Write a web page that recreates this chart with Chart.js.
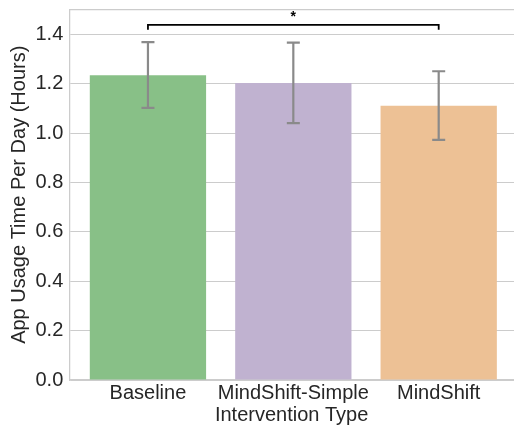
<!DOCTYPE html>
<html>
<head>
<meta charset="utf-8">
<script src="https://cdn.jsdelivr.net/npm/chart.js@4/dist/chart.umd.min.js"></script>
<style>
html,body{margin:0;padding:0;background:#fff;}
#wrap{width:514px;height:430px;position:relative;}
</style>
</head>
<body>
<div id="wrap"><canvas id="c" width="514" height="430"></canvas></div>
<script>
const categories = ['Baseline', 'MindShift-Simple', 'MindShift'];
const meanValues = [1.234, 1.202, 1.110];
const errLow = [1.102, 1.040, 0.972];
const errHigh = [1.368, 1.366, 1.250];
const barColors = ['#88c087', '#c0b2d0', '#edc195'];
const yTicks = [0, 0.2, 0.4, 0.6, 0.8, 1.0, 1.2, 1.4];
const sigFrom = [0];
const sigTo = [2];
const sigY = [1.438];
const sigLabel = ['*'];

const FONT = "'Liberation Sans', Arial, sans-serif";
const TXT = '#262626';
const GRID = '#cccccc';
const FS = 20;

const extras = {
  id: 'extras',
  afterDatasetsDraw(chart) {
    const ctx = chart.ctx, x = chart.scales.x, y = chart.scales.y, a = chart.chartArea;
    ctx.save();
    ctx.strokeStyle = GRID; ctx.lineWidth = 1.25;
    ctx.beginPath(); ctx.moveTo(a.left, a.top); ctx.lineTo(a.right, a.top); ctx.stroke();
    ctx.strokeStyle = '#8a8a8a'; ctx.lineWidth = 2.2; ctx.lineCap = 'butt';
    for (let i = 0; i < categories.length; i++) {
      const px = x.getPixelForValue(i);
      const lo = y.getPixelForValue(errLow[i]), hi = y.getPixelForValue(errHigh[i]);
      ctx.beginPath();
      ctx.moveTo(px, lo); ctx.lineTo(px, hi);
      ctx.moveTo(px - 6.5, lo); ctx.lineTo(px + 6.5, lo);
      ctx.moveTo(px - 6.5, hi); ctx.lineTo(px + 6.5, hi);
      ctx.stroke();
    }
    ctx.strokeStyle = '#000'; ctx.lineWidth = 1.8;
    for (let i = 0; i < sigFrom.length; i++) {
      const x1 = x.getPixelForValue(sigFrom[i]), x2 = x.getPixelForValue(sigTo[i]);
      const yy = y.getPixelForValue(sigY[i]);
      const leg = y.getPixelForValue(sigY[i] - 0.02);
      ctx.beginPath();
      ctx.moveTo(x1, leg); ctx.lineTo(x1, yy); ctx.lineTo(x2, yy); ctx.lineTo(x2, leg);
      ctx.stroke();
      ctx.fillStyle = '#000';
      ctx.font = 'bold 14px ' + FONT;
      ctx.textAlign = 'center'; ctx.textBaseline = 'bottom';
      ctx.fillText(sigLabel[i], (x1 + x2) / 2, yy - 1);
    }
    ctx.restore();
  }
};

new Chart(document.getElementById('c'), {
  type: 'bar',
  data: {
    datasets: [{
      data: categories.map((c, i) => ({x: i, y: meanValues[i]})),
      backgroundColor: barColors,
      borderWidth: 0,
      barPercentage: 0.8,
      categoryPercentage: 1.0
    }]
  },
  options: {
    responsive: false,
    animation: false,
    devicePixelRatio: 1,
    layout: {padding: {top: 9.5, right: 0, left: 0, bottom: 0}},
    plugins: {legend: {display: false}, tooltip: {enabled: false}},
    scales: {
      x: {
        type: 'linear',
        min: -0.541, max: 2.518,
        offset: false,
        afterBuildTicks: s => { s.ticks = categories.map((c, i) => ({value: i})); },
        afterFit: s => { s.height = 50; s.paddingLeft = 0; s.paddingRight = 0; },
        ticks: {
          callback: v => categories[v],
          color: TXT, font: {family: FONT, size: FS}, padding: 1, maxRotation: 0, autoSkip: false
        },
        grid: {display: false, offset: false, drawTicks: false, tickLength: 0},
        border: {display: true, color: GRID, width: 1.25},
        title: {display: true, text: 'Intervention Type', color: TXT, font: {family: FONT, size: FS}, padding: {top: 0, bottom: 3}}
      },
      y: {
        min: 0, max: 1.5,
        afterBuildTicks: s => { s.ticks = yTicks.map(v => ({value: v})); },
        afterFit: s => { s.width = 69.3; s.paddingTop = 0; s.paddingBottom = 0; },
        ticks: {
          callback: v => v.toFixed(1),
          color: TXT, font: {family: FONT, size: FS}, padding: 6
        },
        grid: {color: GRID, lineWidth: 1, drawTicks: false, tickLength: 0},
        border: {display: true, color: GRID, width: 1.25},
        title: {display: true, text: 'App Usage Time Per Day (Hours)', color: TXT, font: {family: FONT, size: FS}, padding: {top: 7, bottom: 0}}
      }
    }
  },
  plugins: [extras]
});
</script>
</body>
</html>
